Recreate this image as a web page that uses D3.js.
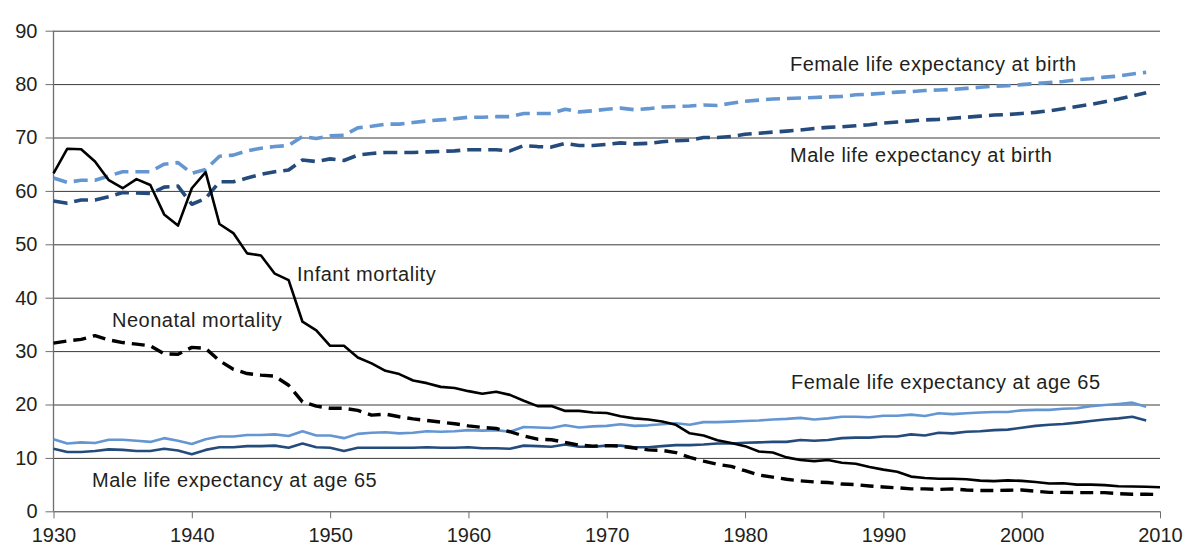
<!DOCTYPE html>
<html><head><meta charset="utf-8">
<script src="https://cdn.jsdelivr.net/npm/d3@7"></script>
<style>
html,body{margin:0;padding:0;background:#fff;}
svg{display:block;font-family:"Liberation Sans",Arial,sans-serif;}
</style></head>
<body><svg id="c" width="1184" height="547"></svg>
<script>
const xTicks = [1930,1940,1950,1960,1970,1980,1990,2000,2010];
const yTicks = [0,10,20,30,40,50,60,70,80,90];

const mortalityYears = d3.range(1930, 2011);   // 1930..2010
const lifeYears = d3.range(1930, 2010);        // 1930..2009

const infantMortality = [
63.3,67.9,67.8,65.5,62.0,60.5,62.2,61.1,55.6,53.5,
60.5,63.5,53.8,52.1,48.3,47.9,44.5,43.3,35.5,33.9,
31.0,31.0,28.8,27.7,26.3,25.7,24.5,24.0,23.3,23.1,
22.5,22.0,22.4,21.8,20.7,19.7,19.7,18.8,18.8,18.5,
18.4,17.8,17.4,17.2,16.8,16.2,14.6,14.2,13.3,12.8,
12.2,11.2,11.0,10.1,9.6,9.4,9.6,9.1,8.9,8.3,
7.8,7.4,6.5,6.25,6.1,6.1,6.0,5.75,5.65,5.8,
5.7,5.5,5.2,5.25,5.0,5.0,4.9,4.7,4.65,4.6,
4.5];
const neonatalMortality = [
31.5,31.9,32.2,32.9,32.1,31.6,31.3,31.0,29.5,29.4,
30.7,30.5,28.2,26.6,25.8,25.5,25.3,23.6,20.5,19.7,
19.3,19.3,18.9,18.0,18.2,17.7,17.3,17.0,16.7,16.4,
16.0,15.7,15.5,14.9,14.1,13.5,13.4,12.9,12.4,12.2,
12.3,12.2,11.85,11.5,11.4,11.0,10.1,9.4,8.8,8.4,
7.6,6.8,6.4,6.0,5.7,5.5,5.4,5.1,5.0,4.75,
4.55,4.4,4.2,4.2,4.1,4.2,4.0,3.9,3.9,3.95,
4.0,3.75,3.55,3.55,3.5,3.5,3.5,3.3,3.2,3.2,
3.15];
const femaleBirth = [
62.4,61.6,62.0,62.0,62.8,63.6,63.6,63.6,65.0,65.3,
63.3,64.0,66.5,66.7,67.5,68.0,68.3,68.5,70.2,69.8,
70.3,70.4,71.8,72.1,72.5,72.5,72.8,73.1,73.3,73.5,
73.8,73.8,73.9,73.9,74.5,74.5,74.5,75.3,74.8,75.0,
75.3,75.5,75.2,75.4,75.7,75.8,75.9,76.1,76.0,76.4,
76.8,77.0,77.2,77.3,77.4,77.5,77.6,77.7,78.0,78.1,
78.3,78.5,78.6,78.8,78.9,79.0,79.2,79.4,79.6,79.7,
79.9,80.1,80.3,80.5,80.8,81.0,81.3,81.5,81.9,82.2];
const maleBirth = [
58.1,57.7,58.3,58.3,58.9,59.7,59.6,59.5,60.7,60.9,
57.5,58.6,61.7,61.7,62.4,63.1,63.6,63.9,65.8,65.5,
66.0,65.7,66.7,67.0,67.2,67.2,67.2,67.3,67.4,67.5,
67.7,67.7,67.7,67.5,68.5,68.3,68.2,68.9,68.5,68.5,
68.7,69.0,68.8,68.9,69.2,69.4,69.5,70.0,70.0,70.2,
70.6,70.8,71.0,71.2,71.4,71.7,71.9,72.0,72.2,72.4,
72.7,72.9,73.1,73.3,73.4,73.6,73.8,74.0,74.2,74.3,
74.5,74.7,75.0,75.4,75.8,76.2,76.7,77.2,77.8,78.4];
const female65 = [
13.5,12.7,12.9,12.8,13.4,13.4,13.2,13.0,13.7,13.2,
12.6,13.5,14.0,14.0,14.3,14.3,14.4,14.1,15.0,14.2,
14.2,13.7,14.5,14.7,14.8,14.6,14.7,15.0,14.9,15.0,
15.2,15.1,15.2,14.9,15.8,15.7,15.6,16.1,15.7,15.9,
16.0,16.3,16.0,16.1,16.3,16.5,16.2,16.7,16.7,16.8,
16.9,17.0,17.2,17.3,17.5,17.2,17.4,17.7,17.7,17.6,
17.9,17.9,18.1,17.85,18.35,18.2,18.35,18.5,18.6,18.6,
18.9,19.0,19.0,19.2,19.3,19.7,19.9,20.1,20.35,19.6];
const male65 = [
11.7,11.1,11.1,11.3,11.6,11.5,11.3,11.3,11.7,11.4,
10.7,11.5,12.0,12.0,12.2,12.2,12.3,11.9,12.7,12.0,
11.9,11.3,11.9,11.9,11.9,11.9,11.9,12.0,11.9,11.9,
12.0,11.8,11.8,11.7,12.3,12.2,12.1,12.5,12.1,12.1,
12.3,12.3,12.0,12.0,12.2,12.4,12.4,12.5,12.7,12.7,
12.85,12.9,13.0,13.0,13.35,13.2,13.35,13.7,13.8,13.8,
14.0,14.0,14.4,14.2,14.7,14.6,14.9,15.0,15.2,15.3,
15.65,16.0,16.2,16.35,16.6,16.9,17.2,17.4,17.7,17.0];

const seriesNames = ["Female life expectancy at birth","Male life expectancy at birth",
  "Female life expectancy at age 65","Male life expectancy at age 65",
  "Infant mortality","Neonatal mortality"];

const svg = d3.select("#c");
const x = d3.scaleLinear().domain([1930,2010]).range([53.5,1160]);
const y = d3.scaleLinear().domain([0,90]).range([511.3,30.7]);
const textColor = "#231f20";

// gridlines
svg.append("g")
  .call(d3.axisLeft(y).tickValues(yTicks).tickSize(-(x(2010)-x(1930))).tickFormat(""))
  .attr("transform",`translate(${x(1930)},0)`)
  .call(g=>g.select(".domain").remove())
  .call(g=>g.selectAll("line").attr("stroke","#3a3a3a").attr("stroke-width",1));

// y axis ticks + labels
const ya = svg.append("g").attr("transform",`translate(${x(1930)},0)`)
  .call(d3.axisLeft(y).tickValues(yTicks).tickSize(8).tickPadding(8));
ya.select(".domain").attr("stroke","#6d6e71").attr("stroke-width",1.3)
  .attr("d",`M0,${y(90)}V${y(0)}`);
ya.selectAll("line").attr("stroke","#6d6e71");
ya.selectAll("text").attr("fill",textColor).style("font-size","20px");

// x axis
const xa = svg.append("g").attr("transform",`translate(0,${y(0)})`)
  .call(d3.axisBottom(x).tickValues(xTicks).tickFormat(d3.format("d")).tickSize(7).tickPadding(10));
xa.select(".domain").remove();
xa.selectAll("line").attr("stroke","#6d6e71");
xa.selectAll("text").attr("fill",textColor).style("font-size","20px");

function drawLine(years, vals, color, width, dash){
  const data = years.map((yr,i)=>[yr, vals[i]]);
  svg.append("path").datum(data)
    .attr("fill","none").attr("stroke",color).attr("stroke-width",width)
    .attr("stroke-dasharray",dash||null)
    .attr("stroke-linejoin","round")
    .attr("d", d3.line().x(d=>x(d[0])).y(d=>y(d[1])));
}
const lightBlue = "#6496d2", darkBlue = "#244b7c";
drawLine(lifeYears, female65, lightBlue, 2.6);
drawLine(lifeYears, male65, darkBlue, 2.6);
drawLine(lifeYears, femaleBirth, lightBlue, 3.6, "14,7");
drawLine(lifeYears, maleBirth, darkBlue, 3.6, "14,7");
drawLine(mortalityYears, neonatalMortality, "#000", 3.4, "13,7");
drawLine(mortalityYears, infantMortality, "#000", 2.6);

// labels
const labels = [
  {t:seriesNames[0], x:790, y:71},
  {t:seriesNames[1], x:790, y:162},
  {t:seriesNames[2], x:791, y:389},
  {t:seriesNames[3], x:92, y:487},
  {t:seriesNames[4], x:297, y:281},
  {t:seriesNames[5], x:112, y:327}
];
svg.append("g").selectAll("text").data(labels).join("text")
  .attr("x",d=>d.x).attr("y",d=>d.y).text(d=>d.t)
  .attr("fill",textColor).style("font-size","20px").style("letter-spacing","0.5px");
</script></body></html>
